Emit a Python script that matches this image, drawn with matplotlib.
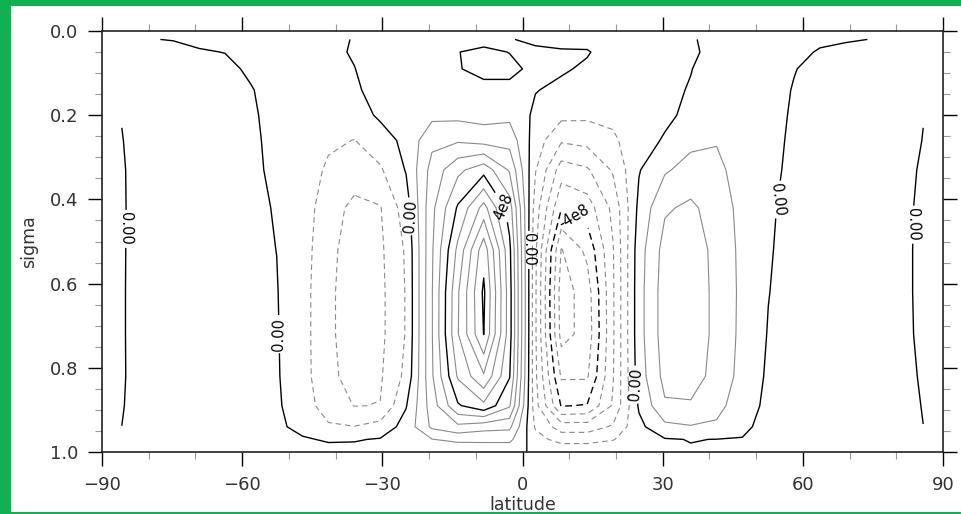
import numpy as np
import matplotlib
matplotlib.use("Agg")
import matplotlib.pyplot as plt
from matplotlib.patches import Rectangle
from matplotlib.ticker import MultipleLocator, FormatStrFormatter

# T21 Gaussian latitudes (degrees)
lats = [-85.76, -80.27, -74.74, -69.21, -63.68, -58.14, -52.61, -47.07,
        -41.53, -36.00, -30.46, -24.92, -19.38, -13.84, -8.30, -2.77,
        2.77, 8.30, 13.84, 19.38, 24.92, 30.46, 36.00, 41.53,
        47.07, 52.61, 58.14, 63.68, 69.21, 74.74, 80.27, 85.76]

# sigma levels, top to bottom
sigma = [0.02, 0.05, 0.09, 0.14, 0.20, 0.26, 0.33, 0.42,
         0.52, 0.62, 0.72, 0.82, 0.89, 0.94, 0.97, 1.00]

# mean meridional streamfunction in units of 1e8, one profile per latitude
psi_cols = [
    [0.02, 0.02, 0.02, 0.015, 0.01, -0.01, -0.03, -0.04, -0.04, -0.04, -0.04, -0.04, -0.02, 0.001, 0.01, 0.01],
    [0.005, 0.05, 0.08, 0.10, 0.12, 0.15, 0.17, 0.20, 0.22, 0.24, 0.24, 0.22, 0.18, 0.12, 0.06, 0.02],
    [-0.005, 0.04, 0.10, 0.15, 0.20, 0.25, 0.30, 0.35, 0.38, 0.40, 0.40, 0.38, 0.30, 0.20, 0.10, 0.03],
    [-0.05, 0.02, 0.10, 0.18, 0.25, 0.30, 0.35, 0.40, 0.45, 0.48, 0.48, 0.45, 0.38, 0.25, 0.12, 0.04],
    [-0.08, -0.005, 0.06, 0.12, 0.18, 0.25, 0.30, 0.35, 0.40, 0.42, 0.42, 0.40, 0.33, 0.22, 0.10, 0.04],
    [-0.10, -0.05, -0.04, 0.015, 0.043, 0.055, 0.06, 0.10, 0.15, 0.18, 0.20, 0.20, 0.20, 0.15, 0.08, 0.03],
    [-0.10, -0.10, -0.10, -0.10, -0.10, -0.08, -0.06, -0.03, -0.005, 0.03, 0.05, 0.07, 0.10, 0.10, 0.10, 0.05],
    [-0.10, -0.10, -0.12, -0.15, -0.18, -0.20, -0.30, -0.40, -0.45, -0.50, -0.50, -0.50, -0.40, -0.15, 0.05, 0.10],
    [-0.10, -0.10, -0.20, -0.30, -0.45, -0.65, -0.95, -1.25, -1.40, -1.45, -1.45, -1.40, -1.20, -0.70, -0.05, 0.15],
    [0.02, 0.04, -0.01, -0.08, -0.35, -0.82, -1.20, -1.80, -1.95, -2.00, -2.00, -1.90, -1.62, -0.78, -0.05, 0.20],
    [0.20, 0.25, 0.20, 0.20, 0.12, -0.35, -0.90, -1.65, -1.75, -1.80, -1.80, -1.70, -1.58, -0.50, 0.05, 0.05],
    [0.30, 0.30, 0.35, 0.35, 0.30, 0.20, 0.05, -0.40, -0.70, -0.75, -0.75, -0.60, -0.05, 0.30, 0.30, 0.05],
    [0.15, 0.10, 0.10, 0.20, 0.60, 1.40, 1.90, 2.20, 2.30, 2.35, 2.35, 2.30, 2.00, 1.75, 0.78, 0.10],
    [0.20, 0.01, 0.02, 0.15, 0.60, 1.50, 3.00, 4.10, 5.00, 5.50, 5.55, 4.90, 3.90, 2.20, 1.00, 0.15],
    [0.15, -0.10, -0.10, 0.10, 0.50, 1.30, 3.70, 5.90, 7.70, 8.15, 8.02, 6.30, 4.60, 1.90, 1.00, 0.20],
    [0.04, 0.01, -0.10, 0.10, 0.60, 1.30, 2.30, 3.60, 4.20, 4.35, 4.35, 4.05, 3.30, 1.80, 1.00, 0.20],
    [-0.15, 0.15, 0.10, 0.03, -0.16, -0.40, -0.75, -1.20, -1.45, -1.50, -1.50, -1.45, -1.30, -0.90, -0.50, -0.10],
    [-0.15, 0.05, 0.08, -0.15, -0.60, -1.50, -2.80, -3.95, -5.65, -6.00, -5.90, -4.90, -4.05, -2.00, -1.10, -0.20],
    [-0.20, 0.05, -0.10, -0.30, -0.65, -1.35, -2.50, -3.60, -4.60, -5.20, -5.30, -4.90, -3.95, -2.00, -1.10, -0.20],
    [-0.25, -0.30, -0.30, -0.35, -0.60, -0.95, -1.50, -2.20, -2.45, -2.50, -2.50, -2.45, -2.30, -1.50, -0.85, -0.15],
    [-0.30, -0.30, -0.30, -0.30, -0.30, -0.25, -0.05, 0.20, 0.45, 0.50, 0.50, 0.40, 0.10, -0.20, -0.20, -0.05],
    [-0.20, -0.20, -0.20, -0.15, -0.12, 0.06, 0.70, 1.50, 1.90, 2.00, 2.00, 1.85, 1.50, 0.60, -0.05, -0.05],
    [-0.10, -0.10, -0.02, 0.042, 0.14, 0.60, 1.10, 1.75, 2.05, 2.10, 2.10, 2.00, 1.50, 0.75, 0.02, -0.05],
    [0.30, 0.18, 0.27, 0.35, 0.45, 0.75, 1.00, 1.25, 1.37, 1.40, 1.40, 1.30, 1.00, 0.70, -0.01, -0.10],
    [0.30, 0.30, 0.30, 0.30, 0.30, 0.35, 0.45, 0.55, 0.60, 0.62, 0.60, 0.55, 0.45, 0.25, -0.05, -0.10],
    [0.30, 0.30, 0.25, 0.20, 0.23, 0.26, 0.24, 0.13, 0.075, 0.02, -0.04, -0.12, -0.22, -0.40, -0.30, -0.10],
    [0.15, 0.15, 0.02, -0.03, -0.08, -0.15, -0.22, -0.28, -0.30, -0.30, -0.30, -0.30, -0.30, -0.25, -0.15, -0.05],
    [0.10, -0.05, -0.15, -0.22, -0.28, -0.33, -0.38, -0.42, -0.45, -0.45, -0.45, -0.43, -0.38, -0.28, -0.15, -0.05],
    [0.05, -0.15, -0.25, -0.30, -0.35, -0.40, -0.45, -0.48, -0.50, -0.50, -0.50, -0.48, -0.42, -0.30, -0.15, -0.05],
    [-0.01, -0.15, -0.20, -0.25, -0.30, -0.35, -0.38, -0.40, -0.42, -0.42, -0.42, -0.40, -0.35, -0.25, -0.12, -0.04],
    [-0.05, -0.10, -0.12, -0.14, -0.16, -0.18, -0.18, -0.20, -0.20, -0.20, -0.20, -0.20, -0.20, -0.15, -0.08, -0.03],
    [-0.02, -0.02, -0.02, -0.015, -0.01, 0.01, 0.06, 0.12, 0.14, 0.14, 0.12, 0.06, 0.02, -0.003, -0.01, -0.01],
]

scale = 1e8
gray_pos = [0.8, 1.6, 2.4, 3.2, 4.8, 5.6, 6.4, 7.2]
gray_neg = [-7.2, -6.4, -5.6, -4.8, -3.2, -2.4, -1.6, -0.8]
zero_level = 0.0
high_levels = [4.0, 8.0]
low_level = -4.0

zero_label_pos = [(-85.2, 0.47), (-51.5, 0.72), (-23.8, 0.44), (1.2, 0.52),
                  (24.3, 0.84), (54.5, 0.40), (83.6, 0.46)]
pos_label_pos = [(-4.4, 0.42)]
neg_label_pos = [(11.2, 0.44)]

GREEN = "#10b150"
GRAY = "#8a8a8a"
TXT = "#333333"

W, H = 961, 514
fig = plt.figure(figsize=(W / 100, H / 100), dpi=100, facecolor=GREEN)

# white page area with a thin green frame
fig.add_artist(Rectangle((11 / W, 2.5 / H), 1 - 11 / W, (H - 2.5 - 6) / H,
                         transform=fig.transFigure, facecolor="white",
                         edgecolor="none", zorder=-1))
fig.add_artist(Rectangle((0, 0), 1, 2.5 / H, transform=fig.transFigure,
                         facecolor=GREEN, edgecolor="none", zorder=10))

ax = fig.add_axes([102 / W, 1 - 452 / H, 841 / W, 421 / H])
ax.set_facecolor("white")

psi = np.array(psi_cols).T * scale
x = np.array(lats)
y = np.array(sigma)

ax.contour(x, y, psi, levels=np.array(gray_pos) * scale, colors=GRAY,
           linewidths=0.8, linestyles="solid")
ax.contour(x, y, psi, levels=np.array(gray_neg) * scale, colors=GRAY,
           linewidths=0.8, linestyles=[(0, (5, 3.5))])
cs_zero = ax.contour(x, y, psi, levels=[zero_level], colors="black",
                     linewidths=1.0, linestyles="solid")
cs_4 = ax.contour(x, y, psi, levels=[high_levels[0] * scale], colors="black",
                  linewidths=1.0, linestyles="solid")
ax.contour(x, y, psi, levels=[high_levels[1] * scale], colors="black",
           linewidths=1.0, linestyles="solid")
cs_m4 = ax.contour(x, y, psi, levels=[low_level * scale], colors="black",
                   linewidths=1.0, linestyles=[(0, (5, 3))])

lab_kw = dict(fontsize=10.5, inline=True, inline_spacing=3, colors="black")
ax.clabel(cs_zero, fmt={zero_level: "0.00"}, manual=zero_label_pos, **lab_kw)
ax.clabel(cs_4, fmt={high_levels[0] * scale: "4e8"}, manual=pos_label_pos, **lab_kw)
ax.clabel(cs_m4, fmt={low_level * scale: "-4e8"}, manual=neg_label_pos, **lab_kw)

ax.set_xlim(-90, 90)
ax.set_ylim(1.0, 0.0)
ax.xaxis.set_major_locator(MultipleLocator(30))
ax.xaxis.set_minor_locator(MultipleLocator(10))
ax.yaxis.set_major_locator(MultipleLocator(0.2))
ax.yaxis.set_minor_locator(MultipleLocator(0.05))
ax.yaxis.set_major_formatter(FormatStrFormatter("%.1f"))

ax.tick_params(which="both", direction="out", top=True, right=True,
               labeltop=False, labelright=False)
ax.tick_params(which="major", length=10, width=1.0, color="black",
               labelsize=13, labelcolor=TXT, pad=7)
ax.tick_params(which="minor", length=5, width=0.8, color="#9a9a9a")
for s in ax.spines.values():
    s.set_linewidth(1.2)
    s.set_color("#222222")

ax.set_xlabel("latitude", fontsize=12.5, color=TXT)
ax.set_ylabel("sigma", fontsize=12.5, color=TXT)
ax.xaxis.set_label_coords(0.5, (452 - 496) / 421)
ax.yaxis.set_label_coords((38 - 102) / 841, 0.5)

fig.savefig("out.png", dpi=100, facecolor=GREEN)
